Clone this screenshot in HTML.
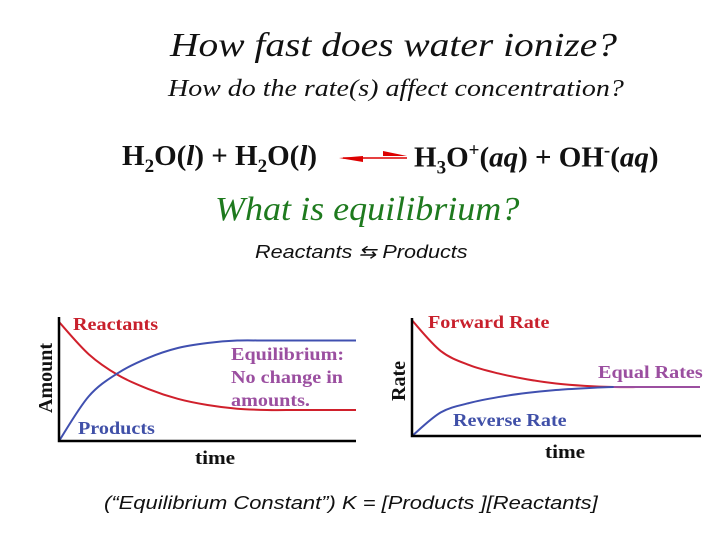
<!DOCTYPE html>
<html><head><meta charset="utf-8"><style>
body{margin:0;background:#fff}
#root{position:relative;width:720px;height:540px;overflow:hidden;background:#fff}
.t{position:absolute;white-space:nowrap;transform-origin:0 0}
.serif{font-family:"Liberation Serif",serif}
.sans{font-family:"Liberation Sans",sans-serif}
</style></head><body>
<div id="root">
<div class="t serif" style="left:170px;top:27px;font-size:34px;font-style:italic;color:#111;transform:scaleX(1.16)">How fast does water ionize?</div>
<div class="t serif" style="left:168px;top:76px;font-size:24px;font-style:italic;color:#111;transform:scaleX(1.165)">How do the rate(s) affect concentration?</div>
<div class="t serif" style="left:122px;top:140px;font-size:29px;font-weight:bold;color:#111">H<sub style="font-size:19px">2</sub>O(<i>l</i>) + H<sub style="font-size:19px">2</sub>O(<i>l</i>)</div>
<svg class="t" style="left:333px;top:147px" width="80" height="20"><line x1="10" y1="11" x2="74" y2="11" stroke="#d00" stroke-width="1.5"/><polygon points="6,11 30,9 30,15" fill="#d00"/><polygon points="74,9 50,4 50,9" fill="#d00"/></svg>
<div class="t serif" style="left:414px;top:140px;font-size:29px;font-weight:bold;color:#111">H<sub style="font-size:19px">3</sub>O<sup style="font-size:19px">+</sup>(<i>aq</i>) + OH<sup style="font-size:19px">-</sup>(<i>aq</i>)</div>
<div class="t serif" style="left:215px;top:191px;font-size:34px;font-style:italic;color:#1e7a1e;transform:scaleX(1.06)">What is equilibrium?</div>
<div class="t sans" style="left:255px;top:242px;font-size:18px;font-style:italic;color:#111;transform:scaleX(1.2)">Reactants ⇆ Products</div>
<svg class="t" id="charts" style="left:0;top:0" width="720" height="540"></svg>
<div class="t sans" style="left:104px;top:493px;font-size:18px;font-style:italic;color:#111;transform:scaleX(1.22)">(“Equilibrium Constant”) K = [Products ][Reactants]</div>
</div>
<script>
const times=[0,1,2,3,4,5,6,7,8,9,10];
const reactants=[0.96,0.70,0.53,0.42,0.34,0.29,0.26,0.25,0.25,0.25,0.25];
const products=[0,0.36,0.55,0.67,0.75,0.79,0.81,0.81,0.81,0.81,0.81];
const forwardRate=[0.98,0.72,0.60,0.53,0.48,0.445,0.425,0.415,0.415,0.415,0.415];
const reverseRate=[0,0.20,0.28,0.33,0.365,0.39,0.405,0.415,0.415,0.415,0.415];
const NS='http://www.w3.org/2000/svg';
const svg=document.getElementById('charts');
function mk(tag,at){const e=document.createElementNS(NS,tag);for(const k in at)e.setAttribute(k,at[k]);svg.appendChild(e);return e;}
function path(xs,ys,fx,fy){const p=xs.map((t,i)=>[fx(t),fy(ys[i])]);let d='M'+p[0][0]+','+p[0][1];
for(let i=0;i<p.length-1;i++){const p0=p[Math.max(0,i-1)],p1=p[i],p2=p[i+1],p3=p[Math.min(p.length-1,i+2)];
d+=' C'+(p1[0]+(p2[0]-p0[0])/6)+','+(p1[1]+(p2[1]-p0[1])/6)+' '+(p2[0]-(p3[0]-p1[0])/6)+','+(p2[1]-(p3[1]-p1[1])/6)+' '+p2[0]+','+p2[1];}return d;}
function txt(x,y,s,c,size,name,rot){const e=mk('text',{x:x,y:y,fill:c,'font-size':size,'font-weight':'bold','font-family':'Liberation Serif, serif'});
if(rot)e.setAttribute('transform','rotate(-90 '+x+' '+y+')');
else e.setAttribute('transform','translate('+x+' 0) scale(1.12 1) translate('+(-x)+' 0)');
e.textContent=s;

return e;}
const lx=t=>59+t*29.7, ly=v=>441-v*124;
let e;
e=mk('path',{d:path(times,reactants,lx,ly),fill:'none',stroke:'#d0202c','stroke-width':2});


e=mk('path',{d:path(times,products,lx,ly),fill:'none',stroke:'#4050b0','stroke-width':2});


e=mk('path',{d:'M59,317 L59,441 L356,441',fill:'none',stroke:'#000','stroke-width':2.5});


txt(73,330,'Reactants','#c8202c',18,'reactants-label');
txt(78,434,'Products','#4050a8',18,'products-label');
txt(231,360,'Equilibrium:','#9b4fa0',18,'equilibrium-label-1');
txt(231,383,'No change in','#9b4fa0',18,'equilibrium-label-2');
txt(231,406,'amounts.','#9b4fa0',18,'equilibrium-label-3');
txt(195,464,'time','#111',19,'x-axis-title-left');
txt(52,413,'Amount','#111',20,'y-axis-title-amount',true);
const rx=t=>412+t*28.8, ry=v=>436-v*118;
e=mk('path',{d:path(times,forwardRate,rx,ry),fill:'none',stroke:'#d0202c','stroke-width':2});


e=mk('path',{d:path(times,reverseRate,rx,ry),fill:'none',stroke:'#4050b0','stroke-width':2});


e=mk('path',{d:'M'+rx(7)+','+ry(forwardRate[7])+' L'+rx(10)+','+ry(forwardRate[10]),fill:'none',stroke:'#9b4fa0','stroke-width':2});


e=mk('path',{d:'M412,318 L412,436 L701,436',fill:'none',stroke:'#000','stroke-width':2.5});


txt(428,328,'Forward Rate','#c8202c',18,'forward-rate-label');
txt(598,378,'Equal Rates','#9b4fa0',18,'equal-rates-label');
txt(453,426,'Reverse Rate','#4050a8',18,'reverse-rate-label');
txt(545,458,'time','#111',19,'x-axis-title-right');
txt(405,401,'Rate','#111',20,'y-axis-title-rate',true);
</script>
</body></html>
